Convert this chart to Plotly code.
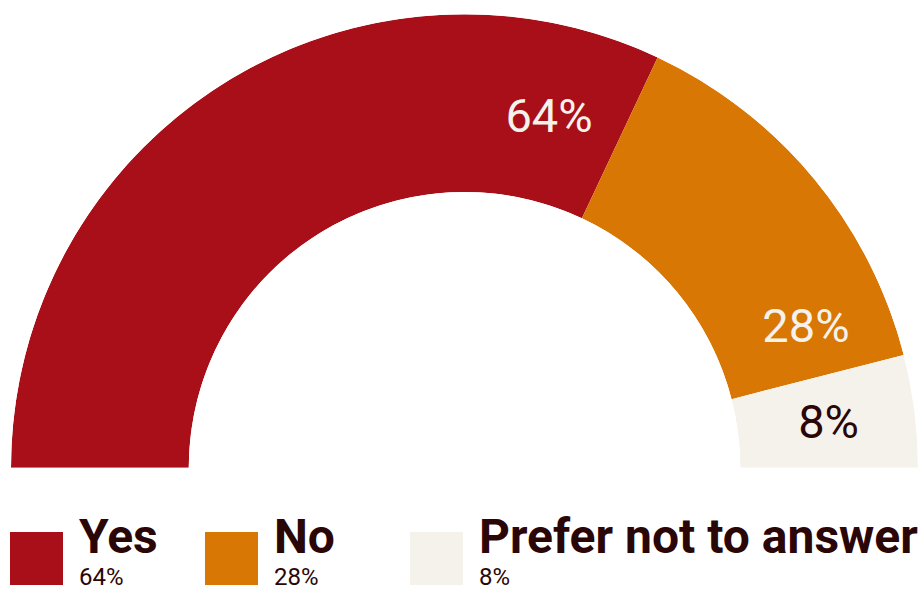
import plotly.graph_objects as go

# ---- data ----
categories = ["Yes", "No", "Prefer not to answer"]
values = [64, 28, 8]
pct_labels = ["64%", "28%", "8%"]

# ---- style ----
colors = ["#A80F18", "#D97704", "#F5F2EC"]
label_colors = ["#F5F2EC", "#F5F2EC", "#2B0606"]
dark = "#2B0606"
W, H = 918, 593
FONT = "Roboto"

# label placement (fraction through slice measured from its start, radial fraction)
label_frac = [0.90, 0.85, 0.55]
label_r = [0.46, 0.52, 0.51]

total = sum(values)
span = [v / total * 180 for v in values]
starts = [sum(span[:i]) for i in range(len(span))]
centers = [s + w / 2 for s, w in zip(starts, span)]
label_theta = [s + f * w for s, f, w in zip(starts, label_frac, span)]

fig = go.Figure()
fig.add_trace(go.Barpolar(
    r=[1] * len(values), theta=centers, width=span, base=0,
    marker=dict(color=colors, line=dict(width=0)),
    hovertext=categories, showlegend=False,
))
fig.add_trace(go.Scatterpolar(
    r=label_r, theta=label_theta, mode="text", text=pct_labels,
    textfont=dict(family=FONT, size=47, color=label_colors),
    showlegend=False, hoverinfo="skip",
))

fig.update_layout(
    width=W, height=H,
    margin=dict(l=0, r=0, t=0, b=0),
    paper_bgcolor="white", plot_bgcolor="white",
    polar=dict(
        sector=[0, 180],
        hole=0.608,
        domain=dict(x=[11 / W, 1], y=[1 - 468 / H, 1 - 14 / H]),
        bgcolor="white",
        radialaxis=dict(visible=False, range=[0, 1]),
        angularaxis=dict(visible=False, direction="clockwise", rotation=180),
        barmode="overlay",
    ),
)

# ---- custom legend ----
sq_x = [10, 205, 410]
sq_top, sq_size = 532, 53
for i, cat in enumerate(categories):
    x0 = sq_x[i]
    fig.add_shape(type="rect", xref="paper", yref="paper",
                  x0=x0 / W, x1=(x0 + sq_size) / W,
                  y0=1 - (sq_top + sq_size) / H, y1=1 - sq_top / H,
                  fillcolor=colors[i], line=dict(width=0), layer="above")
    fig.add_annotation(xref="paper", yref="paper",
                       x=(x0 + 67) / W, y=1 - 536 / H,
                       xanchor="left", yanchor="middle", showarrow=False,
                       text=f"<b>{cat}</b>",
                       font=dict(family=FONT, size=48, color=dark))
    fig.add_annotation(xref="paper", yref="paper",
                       x=(x0 + 67) / W, y=0,
                       xanchor="left", yanchor="bottom", showarrow=False,
                       text=pct_labels[i],
                       font=dict(family=FONT, size=24, color=dark))

fig.write_html("out.html")
